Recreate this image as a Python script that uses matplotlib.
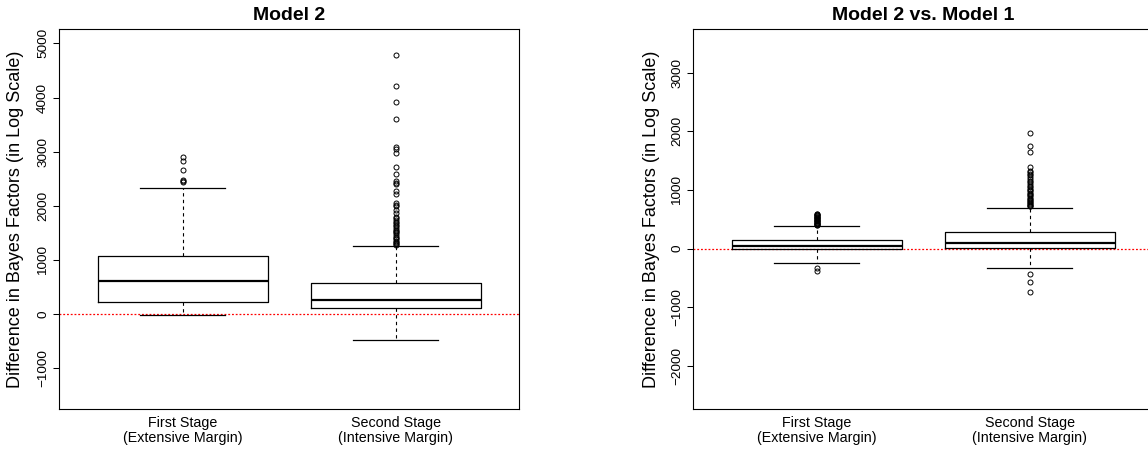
import matplotlib
matplotlib.use("Agg")
import matplotlib.pyplot as plt

plt.rcParams['font.family'] = ['Liberation Sans', 'DejaVu Sans']

stage_labels = ["First Stage\n(Extensive Margin)", "Second Stage\n(Intensive Margin)"]

# Model 2 : five-number summaries (low whisker, q1, median, q3, high whisker)
m2_first = [-18, 216, 610, 1077, 2328]
m2_second = [-474, 111, 265, 573, 1252]
m2_first_out = [2906, 2827, 2660, 2475, 2452, 2445]
m2_second_out = [4790, 4210, 3910, 3600, 3080, 3045, 2970, 2720, 2590, 2450,
                 2420, 2400, 2280, 2220, 2045, 2010, 1990, 1920, 1870, 1800,
                 1770, 1740, 1705, 1680, 1645, 1620, 1585, 1560, 1540, 1510,
                 1490, 1460, 1430, 1410, 1380, 1350, 1335, 1310, 1290, 1275]

# Model 2 vs. Model 1
m21_first = [-239, -10, 46, 144, 383]
m21_second = [-330, 17, 103, 291, 701]
m21_first_out = [593, 585, 575, 565, 555, 545, 535, 525, 515, 505, 495, 485,
                 475, 465, 455, 445, 435, 425, 415, 405, 395, -325, -381]
m21_second_out = [1974, 1745, 1649, 1386, 1318, 1300, 1280, 1250, 1220, 1190,
                  1160, 1130, 1100, 1070, 1045, 1020, 1000, 975, 950, 930,
                  910, 890, 870, 850, 830, 815, 800, 780, 765, 750, 735, 720,
                  -438, -564, -735]

panels = [
    ("Model 2", [m2_first, m2_second], [m2_first_out, m2_second_out],
     (-1760, 5260), list(range(-1000, 5001, 1000))),
    ("Model 2 vs. Model 1", [m21_first, m21_second], [m21_first_out, m21_second_out],
     (-2740, 3740), list(range(-2000, 3001, 1000))),
]

fig = plt.figure(figsize=(11.48, 4.51), dpi=100)
W, H = 1148, 451
lefts = [59.3, 693.3]
label_right = [24, 660]   # pixel x of the y-label's right edge

for (title, summaries, outs, ylim, yticks), left, lr in zip(panels, lefts, label_right):
    ax = fig.add_axes([left / W, (H - 409.3) / H, 460 / W, 380 / H])
    stats = []
    for s, o, lab in zip(summaries, outs, stage_labels):
        stats.append(dict(whislo=s[0], q1=s[1], med=s[2], q3=s[3], whishi=s[4],
                          fliers=o, label=lab))
    ax.bxp(stats, positions=[1, 2], widths=0.8, patch_artist=False,
           boxprops=dict(color='black', linewidth=0.9),
           medianprops=dict(color='black', linewidth=1.6),
           whiskerprops=dict(color='black', linewidth=0.8, linestyle=(0, (3, 3))),
           capprops=dict(color='black', linewidth=0.9),
           capwidths=0.4,
           flierprops=dict(marker='o', markersize=3.6, markerfacecolor='none',
                           markeredgecolor='black', markeredgewidth=0.7))
    ax.axhline(0, color='red', linestyle=(0, (1.5, 1.5)), linewidth=0.9, zorder=0.5)
    ax.set_xlim(0.42, 2.58)
    ax.set_ylim(*ylim)
    ax.set_yticks(yticks)
    ax.set_yticklabels([str(t).replace('-', '\u2212') for t in yticks],
                       rotation=90, va='center', fontsize=9.7)
    ax.tick_params(axis='y', length=4.3, width=0.75, pad=3)
    ax.tick_params(axis='x', length=0, pad=5, labelsize=10.3)
    for lbl in ax.get_xticklabels():
        lbl.set_linespacing(1.05)
    for sp in ax.spines.values():
        sp.set_linewidth(0.8)
    ax.set_title(title, fontsize=14, fontweight='bold', pad=7)
    ax.set_ylabel("Difference in Bayes Factors (in Log Scale)", fontsize=13)
    ax.yaxis.set_label_coords((lr - left) / 460, 0.5)

fig.savefig("out.png", dpi=100)
